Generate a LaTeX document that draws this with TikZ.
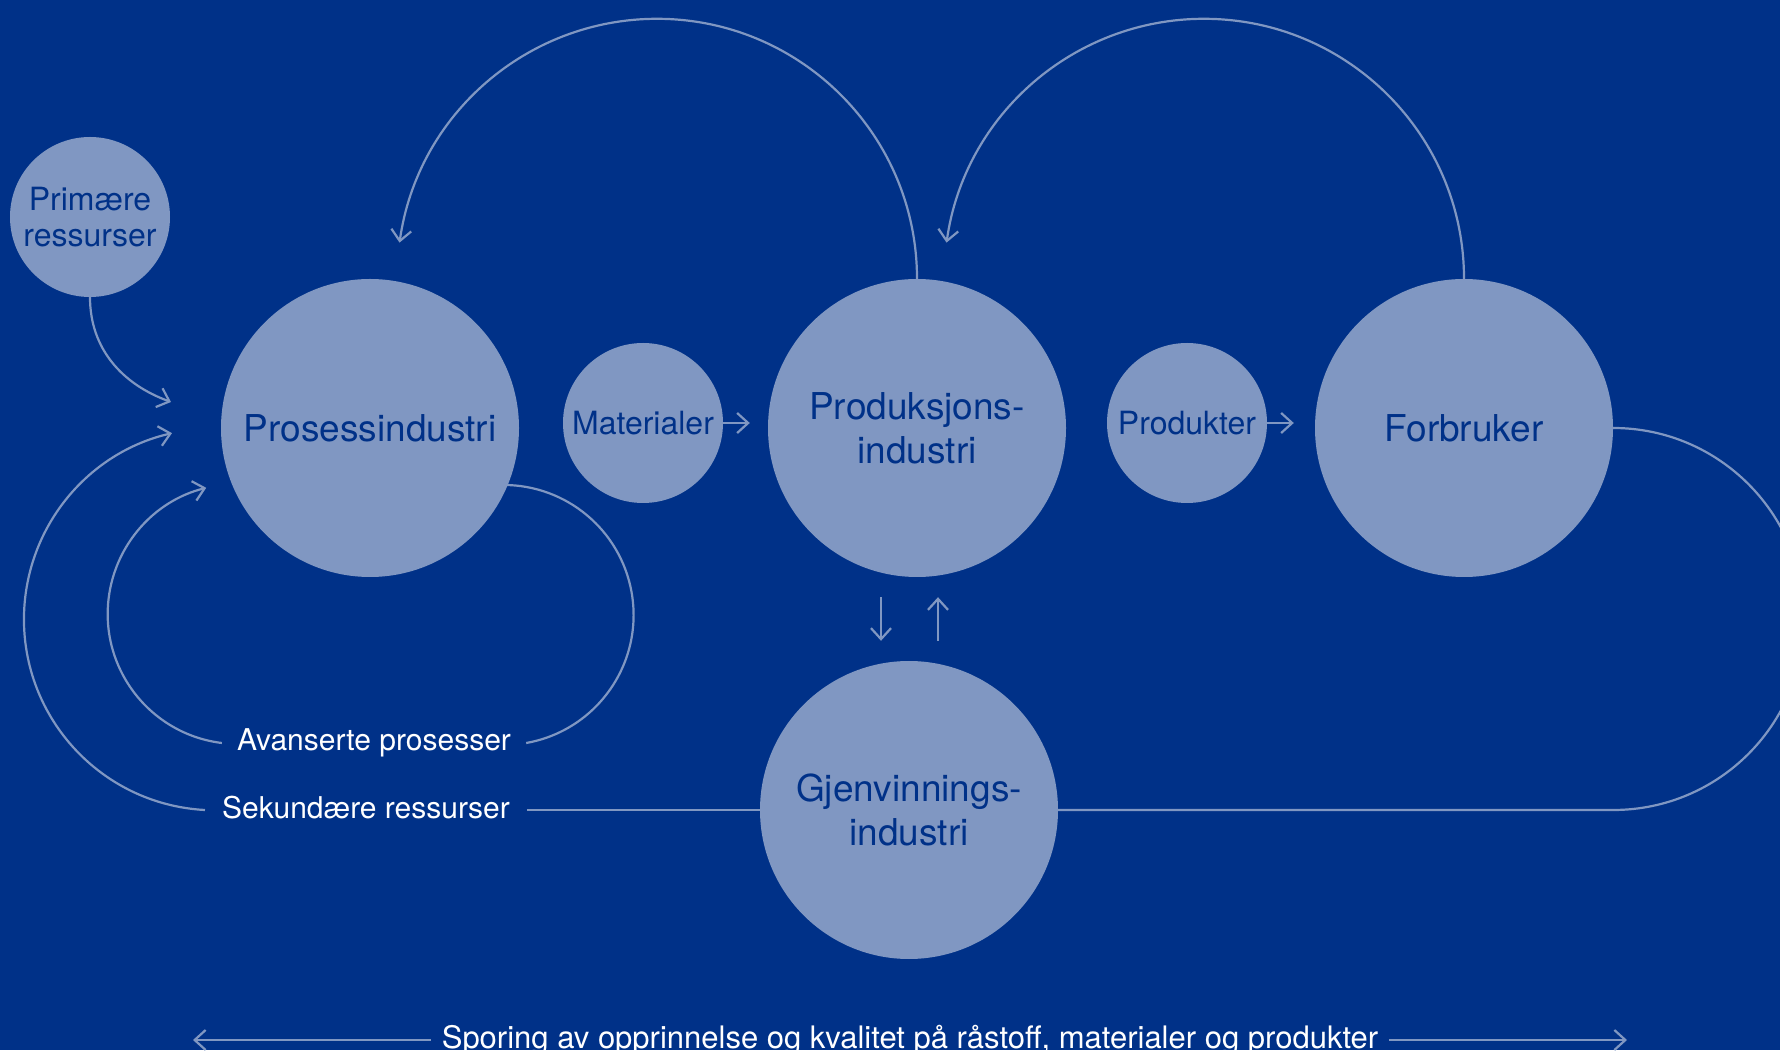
\documentclass[tikz,border=0pt]{standalone}
\usepackage{fontspec}
\setmainfont{TeX Gyre Heros}
\usetikzlibrary{arrows.meta}
\definecolor{navy}{RGB}{0,49,136}
\definecolor{haze}{RGB}{128,151,194}
\tikzset{
  VertexStyle/.style = { circle, fill = haze, text = navy,
                         inner sep = 0pt, align = center },
  BigVertex/.style   = { VertexStyle, minimum size = 298pt,
                         font = \fontsize{37}{44}\selectfont },
  SmallVertex/.style = { VertexStyle, minimum size = 160pt,
                         font = \fontsize{32}{36}\selectfont },
  FlowStyle/.style   = { draw = haze, line width = 2.2pt,
                         >= {Straight Barb[length=11pt, width=20pt]} },
  NoteStyle/.style   = { text = white, inner ysep = 0pt,
                         text height = 22pt, text depth = 6pt,
                         font = \fontsize{30}{36}\selectfont } }

\begin{document}
\begin{tikzpicture}[x=1pt, y=1pt]
  \fill[navy] (0,0) rectangle (1780,1050);
  \useasboundingbox (0,0) rectangle (1780,1050);

  \node[SmallVertex] (prim) at (90,833)   {Primære\\ressurser};
  \node[BigVertex]   (pros) at (370,622)  {Prosessindustri};
  \node[SmallVertex] (mat)  at (643,627)  {Materialer};
  \node[BigVertex]   (prod) at (917,622)  {Produksjons-\\industri};
  \node[SmallVertex] (vare) at (1187,627) {Produkter};
  \node[BigVertex]   (forb) at (1464,622) {Forbruker};
  \node[BigVertex]   (gjen) at (909,240)  {Gjenvinnings-\\industri};

  \node[NoteStyle, inner xsep=15pt] (avan) at (374,307) {Avanserte prosesser};
  \node[NoteStyle, inner xsep=17pt] (sek)  at (366,240) {Sekundære ressurser};
  \node[NoteStyle, inner xsep=11pt, anchor=base, font=\fontsize{31}{36}\selectfont]
    (spor) at (910,2)
    {Sporing av opprinnelse og kvalitet på råstoff, materialer og produkter};

  \coordinate (pin) at (171,648);
  \coordinate (sl)  at (193,10);
  \coordinate (sr)  at (1627,10);

  % returns over the top
  \draw[FlowStyle,->] (prod.north) arc[start angle=0, end angle=172, radius=260pt];
  \draw[FlowStyle,->] (forb.north) arc[start angle=0, end angle=172, radius=260pt];

  \draw[FlowStyle,->] (prim.south) to[out=-90, in=160] (pin);
  \draw[FlowStyle,->,shorten >=18pt] (mat.east) -- (mat.east -| prod.west);
  \draw[FlowStyle,->,shorten >=21pt] (vare.east) -- (vare.east -| forb.west);
  \draw[FlowStyle,->,shorten <=20pt,shorten >=20pt]
    ([xshift=-36pt]prod.south) -- ([xshift=-28pt]gjen.north);
  \draw[FlowStyle,->,shorten <=20pt,shorten >=20pt]
    ([xshift=29pt]gjen.north) -- ([xshift=21pt]prod.south);

  % loops back to the process industry
  \draw[FlowStyle]    (avan.east) arc[start angle=-80, end angle=90, radius=130pt];
  \draw[FlowStyle,->] (avan.west) arc[start angle=-97, end angle=-256, radius=130pt];
  \draw[FlowStyle,->] (sek.west) arc[start angle=-93, end angle=-257, radius=191pt];
  \draw[FlowStyle]    (sek.east) -- (gjen.west);
  \draw[FlowStyle]    (forb.east) arc[start angle=90, end angle=-90, radius=191pt]
                      -- (gjen.east);

  \draw[FlowStyle,->] (spor.west) -- (sl);
  \draw[FlowStyle,->] (spor.east) -- (sr);
\end{tikzpicture}
\end{document}
